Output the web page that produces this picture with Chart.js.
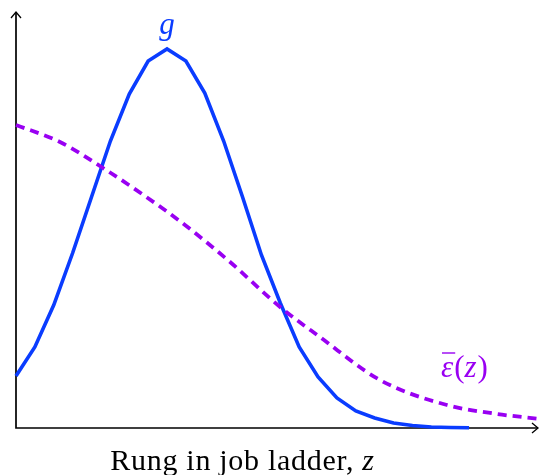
<!DOCTYPE html>
<html>
<head>
<meta charset="utf-8">
<script src="https://cdn.jsdelivr.net/npm/chart.js@4"></script>
<style>
html,body{margin:0;padding:0;background:#fff;}
#wrap{width:541px;height:475px;}
</style>
</head>
<body>
<div id="wrap"><canvas id="c" width="541" height="475"></canvas></div>
<script>
// Rung positions (arbitrary units) and values
const gX = [0,1,2,3,4,5,6,7,8,9,10,11,12,13,14,15,16,17,18,19,20,21,22,23,24];
const gY = [52,81,123,175,231,287,334,367,379,367,335,287,231,173,125,81,51,30,17,10,5,2.5,1,0.5,0.2];
const epsX = [0,2.33,4.61,6.83,8.95,11.34,13.99,16.1,19.28,22.83,25.5,27.76];
const epsY = [303,286,260,232,203,166,121,91,48,23,14,9];
const xMax = 27.81;
const yMax = 416;
const labelG = 'g';
const xTitleMain = 'Rung in job ladder, ';
const xTitleVar = 'z';

const BLUE = '#0a3cff';
const PURPLE = '#9900f2';
const SERIF = '"Liberation Serif"';

const toPts = (xs, ys) => xs.map((x, i) => ({x: x, y: ys[i]}));

const decor = {
  id: 'decor',
  beforeDatasetsDraw(chart) {
    const {ctx, chartArea: a} = chart;
    ctx.save();
    ctx.strokeStyle = '#000';
    ctx.lineWidth = 1.7;
    ctx.beginPath();
    ctx.moveTo(a.left, a.top);
    ctx.lineTo(a.left, a.bottom);
    ctx.lineTo(a.right - 3, a.bottom);
    ctx.stroke();
    ctx.lineWidth = 1.3;
    ctx.beginPath();
    ctx.moveTo(a.left - 5, a.top + 6);
    ctx.lineTo(a.left, a.top);
    ctx.lineTo(a.left + 5, a.top + 6);
    ctx.stroke();
    ctx.beginPath();
    ctx.moveTo(a.right - 9, a.bottom - 5);
    ctx.lineTo(a.right - 3, a.bottom);
    ctx.lineTo(a.right - 9, a.bottom + 5);
    ctx.stroke();
    ctx.restore();
  },
  afterDraw(chart) {
    const {ctx, scales: {x}} = chart;
    ctx.save();
    ctx.textBaseline = 'alphabetic';
    // g label above peak
    ctx.fillStyle = BLUE;
    ctx.font = 'italic 31px ' + SERIF;
    ctx.textAlign = 'center';
    ctx.fillText(labelG, x.getPixelForValue(8), 34);
    // epsilon bar (z)
    ctx.fillStyle = PURPLE;
    ctx.strokeStyle = PURPLE;
    ctx.textAlign = 'left';
    const ex = 441, ey = 377;
    ctx.font = 'italic 31px ' + SERIF;
    ctx.fillText('\u03b5', ex, ey);
    const ew = ctx.measureText('\u03b5').width;
    ctx.lineWidth = 1.4;
    ctx.beginPath();
    ctx.moveTo(ex + 1, 353);
    ctx.lineTo(ex + ew + 2, 353);
    ctx.stroke();
    let cx = ex + ew + 1;
    ctx.font = '31px ' + SERIF;
    ctx.fillText('(', cx, ey);
    cx += ctx.measureText('(').width;
    ctx.font = 'italic 31px ' + SERIF;
    ctx.fillText('z', cx, ey);
    cx += ctx.measureText('z').width + 1;
    ctx.font = '31px ' + SERIF;
    ctx.fillText(')', cx, ey);
    // x title
    ctx.fillStyle = '#000';
    ctx.letterSpacing = '0.7px';
    ctx.font = '30px ' + SERIF;
    const w1 = ctx.measureText(xTitleMain).width;
    ctx.font = 'italic 30px ' + SERIF;
    const w2 = ctx.measureText(xTitleVar).width;
    const startX = 242.5 - (w1 + w2) / 2;
    ctx.font = '30px ' + SERIF;
    ctx.fillText(xTitleMain, startX, 470);
    ctx.font = 'italic 30px ' + SERIF;
    ctx.fillText(xTitleVar, startX + w1, 470);
    ctx.restore();
  }
};

new Chart(document.getElementById('c'), {
  type: 'line',
  data: {
    datasets: [
      {
        label: 'eps',
        data: toPts(epsX, epsY),
        borderColor: PURPLE,
        borderWidth: 3.8,
        borderDash: [9, 6],
        pointRadius: 0,
        cubicInterpolationMode: 'monotone',
        fill: false,
        clip: false
      },
      {
        label: 'g',
        data: toPts(gX, gY),
        borderColor: BLUE,
        borderWidth: 3.6,
        pointRadius: 0,
        tension: 0,
        fill: false,
        clip: false
      }
    ]
  },
  options: {
    responsive: false,
    animation: false,
    devicePixelRatio: 1,
    layout: {padding: {left: 16, right: 0, top: 12, bottom: 47}},
    plugins: {legend: {display: false}, tooltip: {enabled: false}},
    scales: {
      x: {type: 'linear', min: 0, max: xMax, display: false},
      y: {type: 'linear', min: 0, max: yMax, display: false}
    }
  },
  plugins: [decor]
});
</script>
</body>
</html>
